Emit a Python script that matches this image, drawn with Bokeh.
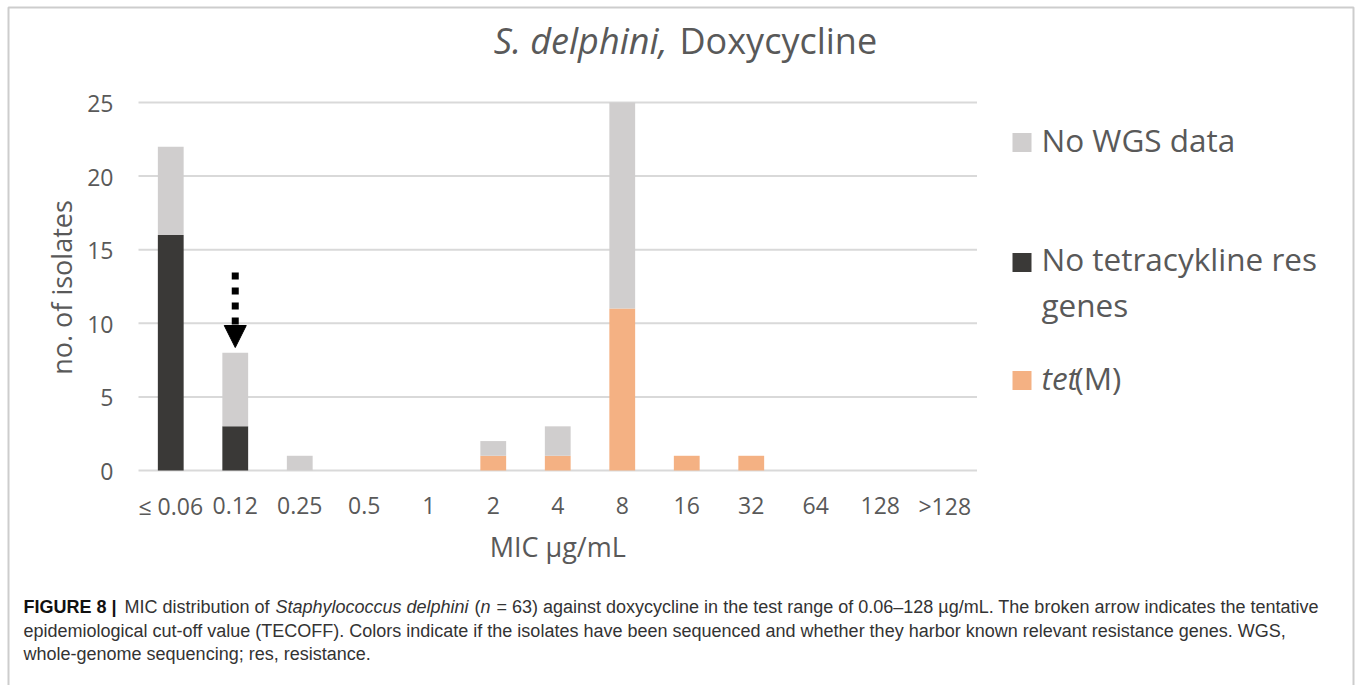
import math
from bokeh.plotting import figure
from bokeh.models import (Range1d, Label, Arrow, NormalHead, BoxAnnotation,
                          ColumnDataSource)
from bokeh.core.properties import value
from bokeh.embed import file_html
from bokeh.resources import INLINE

# ---------------- data ----------------
categories = ["≤ 0.06", "0.12", "0.25", "0.5", "1", "2", "4", "8",
              "16", "32", "64", "128", ">128"]
no_res_genes = [16, 3, 0, 0, 0, 0, 0, 0, 0, 0, 0, 0, 0]
tet_m = [0, 0, 0, 0, 0, 1, 1, 11, 1, 1, 0, 0, 0]
no_wgs = [6, 5, 1, 0, 0, 1, 2, 14, 0, 0, 0, 0, 0]
y_ticks = [0, 5, 10, 15, 20, 25]
y_tick_labels = [str(t) for t in y_ticks]
tecoff_category = "0.12"

C_DARK = "#3a3937"
C_ORANGE = "#f4b183"
C_GREY = "#d0cece"
TXT = "#595959"
GRID = "#d9d9d9"

# ---------------- layout (canvas pixels) ----------------
W, H = 1360, 685
NCAT = len(categories)
YMAX = y_ticks[-1]
PL, PR = 138.0, 976.5     # plot area left/right
PT, PB = 102.0, 470.0     # plot area top/bottom
PXX = (PR - PL) / NCAT    # px per category
PXY = (PB - PT) / YMAX    # px per isolate
X0 = -0.5 - PL / PXX
X1 = X0 + W / PXX
Y0 = -(H - PB) / PXY
Y1 = Y0 + H / PXY

OS_DESC = 0.27   # Open Sans descent (em)
LS_DESC = 0.21   # Liberation Sans descent (em)
GLYPH_BASELINE_SHIFT = 8  # px: text glyph alphabetic baseline correction


def dx(px):
    return X0 + px / PXX


def dy(py):
    return Y1 - py / PXY


p = figure(width=W, height=H, output_backend="svg", toolbar_location=None,
           x_range=Range1d(X0, X1), y_range=Range1d(Y0, Y1),
           x_axis_type=None, y_axis_type=None, min_border=0)
p.outline_line_color = None
p.grid.visible = False
p.background_fill_color = "white"
p.border_fill_color = "white"

# gridlines (one per y tick across the category span)
p.segment(x0=[-0.5] * len(y_ticks), x1=[NCAT - 0.5] * len(y_ticks),
          y0=y_ticks, y1=y_ticks, line_color=GRID, line_width=2)

# stacked bars
src = ColumnDataSource(dict(x=list(range(NCAT)), dark=no_res_genes,
                            tet=tet_m, grey=no_wgs))
p.vbar_stack(["dark", "tet", "grey"], x="x", width=0.4, source=src,
             fill_color=[C_DARK, C_ORANGE, C_GREY], line_color=None)

# tick labels
TFS = 23
p.text(x=list(range(NCAT)), y=[-(43 - GLYPH_BASELINE_SHIFT) / PXY] * NCAT,
       text=categories, text_font=value("Open Sans"),
       text_font_size=value(f"{TFS}px"), text_color=TXT, text_align="center",
       text_baseline="alphabetic")
p.text(x=[-0.5 - 25 / PXX] * len(y_ticks),
       y=[t - (9 - GLYPH_BASELINE_SHIFT) / PXY for t in y_ticks],
       text=y_tick_labels, text_font=value("Open Sans"),
       text_font_size=value(f"{TFS}px"), text_color=TXT, text_align="right",
       text_baseline="alphabetic")

# axis titles
AFS = 27
p.add_layout(Label(x=dx(72 + OS_DESC * AFS), y=dy(287), text="no. of isolates",
                   angle=math.pi / 2, text_align="center", text_baseline="bottom",
                   text_font="Open Sans", text_font_size=f"{AFS}px", text_color=TXT))
p.add_layout(Label(x=(NCAT - 1) / 2, y=dy(557 + OS_DESC * AFS), text="MIC µg/mL",
                   text_align="center", text_baseline="bottom",
                   text_font="Open Sans", text_font_size=f"{AFS}px", text_color=TXT))

# arrow (TECOFF)
ax_i = categories.index(tecoff_category)
p.add_layout(Arrow(end=NormalHead(size=22, fill_color="black", line_color="black"),
                   x_start=ax_i, y_start=dy(272), x_end=ax_i, y_end=dy(347),
                   line_width=7, line_dash="7 8", line_color="black"))

# title
TIT = 36
p.add_layout(Label(x=dx(667), y=dy(55 + OS_DESC * TIT), text="S. delphini,",
                   text_align="right", text_baseline="bottom",
                   text_font="Open Sans", text_font_style="italic",
                   text_font_size=f"{TIT}px", text_color=TXT))
p.add_layout(Label(x=dx(679), y=dy(55 + OS_DESC * TIT), text="Doxycycline",
                   text_align="left", text_baseline="bottom",
                   text_font="Open Sans", text_font_size=f"{TIT}px", text_color=TXT))

# legend
for yc, col in [(142, C_GREY), (262, C_DARK), (380, C_ORANGE)]:
    p.add_layout(BoxAnnotation(left=dx(1012), right=dx(1031), top=dy(yc - 9.5),
                               bottom=dy(yc + 9.5), fill_color=col, fill_alpha=1,
                               line_color=None))
LFS = 31.5
for yb, t in [(152, "No WGS data"), (271, "No tetracykline res"), (317, "genes")]:
    p.add_layout(Label(x=dx(1041), y=dy(yb + OS_DESC * LFS), text=t,
                       text_baseline="bottom", text_font="Open Sans",
                       text_font_size=f"{LFS}px", text_color=TXT))
p.add_layout(Label(x=dx(1041), y=dy(390 + OS_DESC * LFS), text="tet",
                   text_baseline="bottom", text_font="Open Sans",
                   text_font_style="italic", text_font_size=f"{LFS}px", text_color=TXT))
p.add_layout(Label(x=dx(1074), y=dy(390 + OS_DESC * LFS), text="(M)",
                   text_baseline="bottom", text_font="Open Sans",
                   text_font_size=f"{LFS}px", text_color=TXT))

# caption
CAP = "#333333"
CF = "Liberation Sans"
CFS = 18
segs = [
    (23, 613, "FIGURE 8 |", "bold", "#111111"),
    (124, 613, "MIC distribution of", "normal", CAP),
    (275, 613, "Staphylococcus delphini", "italic", CAP),
    (474, 613, "(", "normal", CAP),
    (480, 613, "n", "italic", CAP),
    (496, 613, "= 63) against doxycycline in the test range of 0.06–128 µg/mL. "
               "The broken arrow indicates the tentative", "normal", CAP),
    (23, 637, "epidemiological cut-off value (TECOFF). Colors indicate if the isolates "
              "have been sequenced and whether they harbor known relevant resistance "
              "genes. WGS,", "normal", CAP),
    (23, 660, "whole-genome sequencing; res, resistance.", "normal", CAP),
]
for xp, yp, t, st, col in segs:
    p.add_layout(Label(x=dx(xp), y=dy(yp + LS_DESC * CFS), text=t,
                       text_baseline="bottom", text_font=CF,
                       text_font_style=st, text_font_size=f"{CFS}px", text_color=col))

# outer frame (top, left, right; bottom runs off the page)
p.add_layout(BoxAnnotation(left=dx(8), right=dx(1353), top=dy(7), bottom=dy(720),
                           fill_alpha=0, line_color="#5a5a5a", line_width=2))

open("out.html", "w").write(file_html(p, INLINE))
